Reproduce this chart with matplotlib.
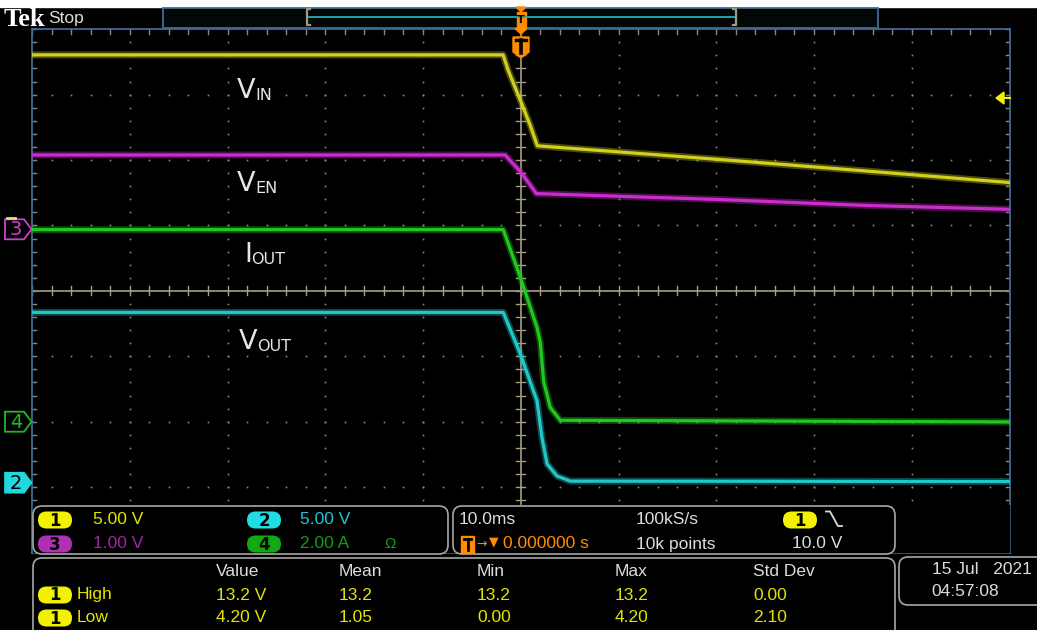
import matplotlib
matplotlib.use('Agg')
import matplotlib.pyplot as plt
from matplotlib.patches import FancyBboxPatch, Rectangle, Polygon

# ---------------- data (time in ms, values in channel units) ----------------
yellow_t = [-50.0, -1.8, -1.3, -0.05, 0.95, 1.7, 20.1, 35.1, 49.9]
yellow_v = [13.35, 13.35, 12.2, 9.9, 8.0, 6.4, 5.37, 4.49, 3.6]          # VIN, ch1

magenta_t = [-50.0, -1.6, 0.0, 1.6, 20.1, 35.1, 49.9]
magenta_v = [1.14, 1.14, 0.88, 0.55, 0.46, 0.37, 0.31]                   # VEN, ch3

green_t = [-50.0, -1.79, -0.05, 1.66, 2.0, 2.35, 3.02, 4.04, 49.9]
green_v = [5.9, 5.9, 4.45, 2.91, 2.45, 1.25, 0.46, 0.07, 0.02]           # IOUT, ch4

cyan_t = [-50.0, -1.79, -0.05, 1.66, 2.17, 2.69, 3.71, 5.07, 49.9]
cyan_v = [13.1, 13.1, 9.94, 6.34, 3.53, 1.51, 0.59, 0.2, 0.17]           # VOUT, ch2

ch_scale = {'1': 5.0, '2': 5.0, '3': 1.0, '4': 2.0}        # per division
ch_offset = {'1': 0.937, '2': -2.949, '3': 0.937, '4': -2.014}  # divisions

trace_main = ['V', 'V', 'I', 'V']
trace_sub = ['IN', 'EN', 'OUT', 'OUT']

scale_texts = {'1': '5.00 V', '2': '5.00 V', '3': '1.00 V', '4': '2.00 A'}
meas_headers = ['Value', 'Mean', 'Min', 'Max', 'Std Dev']
meas_high = ['13.2 V', '13.2', '13.2', '13.2', '0.00']
meas_low = ['4.20 V', '1.05', '0.00', '4.20', '2.10']

# ---------------- colours ----------------
C_Y = '#d0d01e'
C_M = '#cc2ccc'
C_G = '#22c822'
C_C = '#22c8c8'
C_OR = '#ff8c00'
C_TXT = '#dcdcdc'
C_FRAME = '#3f6a96'
C_GRID = '#8c8a78'
C_TAN = '#a89e84'
C_PANEL = '#a8a8a8'

W, H = 1037, 630
fig = plt.figure(figsize=(W / 100, H / 100), dpi=100, facecolor='black')

GL, GR, GT, GB = 32.0, 1009.5, 29.2, 552.5
ax = fig.add_axes([GL / W, 1 - GB / H, (GR - GL) / W, (GB - GT) / H])
ax.set_xlim(-50, 50)
ax.set_ylim(-4, 4)
ax.set_facecolor('black')
ax.set_xticks([])
ax.set_yticks([])
for s in ax.spines.values():
    s.set_color(C_FRAME)
    s.set_linewidth(1.3)

# graticule dots
for xv in range(-50, 51, 10):
    if xv in (-50, 50, 0):
        continue
    ys = [k * 0.2 for k in range(-20, 21)]
    ax.plot([xv] * len(ys), ys, ls='none', marker='s', ms=1.2, color=C_GRID, mew=0)
for yv in range(-3, 4):
    if yv == 0:
        continue
    xs = [k * 2.0 for k in range(-25, 26)]
    ax.plot(xs, [yv] * len(xs), ls='none', marker='s', ms=1.2, color=C_GRID, mew=0)

# centre lines with ticks
ax.axhline(0, color=C_TAN, lw=1.2, zorder=2)
ax.axvline(0, color=C_TAN, lw=1.2, zorder=2)
for k in range(-25, 26):
    ax.plot([k * 2, k * 2], [-0.07, 0.07], color=C_TAN, lw=1.0, zorder=2)
    ax.plot([k * 2, k * 2], [4, 3.93], color=C_GRID, lw=1.0)
    ax.plot([k * 2, k * 2], [-4, -3.93], color=C_GRID, lw=1.0)
for k in range(-20, 21):
    ax.plot([-0.45, 0.45], [k * 0.2, k * 0.2], color=C_TAN, lw=1.0, zorder=2)
    ax.plot([-50, -49.6], [k * 0.2, k * 0.2], color=C_GRID, lw=1.0)
    ax.plot([50, 49.6], [k * 0.2, k * 0.2], color=C_GRID, lw=1.0)


def draw_trace(t, v, ch, color):
    y = [val / ch_scale[ch] + ch_offset[ch] for val in v]
    ax.plot(t, y, color=color, lw=5.0, alpha=0.35, solid_joinstyle='round', zorder=3)
    ax.plot(t, y, color=color, lw=2.3, solid_joinstyle='round', zorder=4)


draw_trace(yellow_t, yellow_v, '1', C_Y)
draw_trace(magenta_t, magenta_v, '3', C_M)
draw_trace(green_t, green_v, '4', C_G)
draw_trace(cyan_t, cyan_v, '2', C_C)

# ---------------- overlay in pixel coordinates ----------------
ov = fig.add_axes([0, 0, 1, 1], zorder=5)
ov.set_xlim(0, W)
ov.set_ylim(H, 0)
ov.axis('off')
ov.patch.set_alpha(0)

NARROW = ['Liberation Sans Narrow', 'Liberation Sans', 'DejaVu Sans']

# top white strip and header
ov.add_patch(Rectangle((0, 0), W, 7, color='white', zorder=1))
ov.text(4, 26, 'Tek', fontsize=19, fontweight='bold', family='Liberation Serif',
        color='white', va='baseline')
ov.text(48, 23.5, 'Stop', fontsize=12.5, family='Liberation Sans', color=C_TXT, va='baseline')
ov.add_patch(Rectangle((163, 7.5), 715, 20, fc='#030806', ec=C_FRAME, lw=1.3))
ov.plot([307, 736], [16.5, 16.5], color='#20b0b8', lw=1.3)
for bx, d in ((307, 1), (736, -1)):
    ov.plot([bx + 3 * d, bx, bx, bx + 3 * d], [9, 9, 25, 25], color='#a09a86', lw=1.6)

# trigger markers (top)
ov.add_patch(Polygon([[516, 7], [526, 7], [521, 12]], color=C_OR))
ov.add_patch(Rectangle((516.5, 12), 9, 15, color=C_OR))
ov.text(521, 20, 'T', ha='center', va='center', fontsize=8, fontweight='bold', color='black')
ov.add_patch(Polygon([[515, 28.5], [527, 28.5], [521, 34]], color=C_OR))
ov.add_patch(Polygon([[513, 37], [529, 37], [529, 52], [521, 58], [513, 52]], color=C_OR))
ov.plot([516, 526], [40, 40], color='black', lw=2.4)
ov.plot([521, 521], [40, 53], color='black', lw=2.6)

# trigger level arrow (right)
ov.add_patch(Polygon([[996, 98], [1004, 92], [1004, 104]], color='#f0f000'))
ov.plot([1003, 1010], [98, 98], color='#f0f000', lw=1.5)

# channel markers (left)
def marker(yc, label, color, filled):
    pts = [[5, yc - 10], [24, yc - 10], [31.5, yc], [24, yc + 10], [5, yc + 10]]
    if filled:
        ov.add_patch(Polygon(pts, closed=True, fc=color, ec=color, lw=1.2))
        tc = 'black'
    else:
        ov.add_patch(Polygon(pts, closed=True, fc='black', ec=color, lw=1.3))
        tc = color
    ov.text(16, yc + 0.5, label, ha='center', va='center', fontsize=14, color=tc,
            family='DejaVu Sans')


ov.plot([7, 15], [217.5, 217.5], color='#e8e080', lw=2)
marker(229.3, '3', '#d040d0', False)
marker(421.7, '4', '#22b822', False)
marker(482.7, '2', '#22d8e0', True)

# trace labels (main letter + subscript)
label_pos = [(237, 98), (237, 191), (244, 262), (239, 349)]
sub_dx = [18, 18, 7, 18.5]
for m, sb, (lx, ly), dx in zip(trace_main, trace_sub, label_pos, sub_dx):
    ov.text(lx, ly, m, fontsize=19.5, color='#e6e6e6', va='baseline', family='DejaVu Sans')
    ov.text(lx + dx, ly + 2, sb, fontsize=11.5, color='#e6e6e6', va='baseline',
            family='DejaVu Sans')

# ---------------- bottom panels ----------------
def panel(x0, y0, x1, y1):
    ov.add_patch(FancyBboxPatch((x0, y0), x1 - x0, y1 - y0,
                                boxstyle='round,pad=0,rounding_size=9',
                                fc='black', ec=C_PANEL, lw=1.2, zorder=2))


ov.add_patch(Rectangle((GL + 1, 505), GR - GL - 2, 46.5, color='black', zorder=1.5))
panel(33, 506, 448, 554)
panel(453, 506, 895, 554)
panel(33, 558, 895, 650)
panel(899, 557, 1060, 605)


def pill(x0, yc, color, label):
    ov.add_patch(FancyBboxPatch((x0, yc - 8.5), 34, 17,
                                boxstyle='round,pad=0,rounding_size=8.5',
                                fc=color, ec='none', zorder=3))
    ov.text(x0 + 17, yc + 0.5, label, ha='center', va='center', fontsize=12,
            fontweight='bold', color='black', zorder=4, family='DejaVu Sans')


def txt(x, y, s, color=C_TXT, size=12.5):
    ov.text(x, y, s, fontsize=size, color=color, va='center', ha='left',
            family=NARROW, zorder=4)


# panel 1: channel scales
pill(38, 520, '#f2f200', '1')
txt(93, 520, scale_texts['1'], '#e4e400')
pill(38, 544, '#b030b4', '3')
txt(93, 544, scale_texts['3'], '#a424a8')
pill(247, 520, '#22dce4', '2')
txt(300, 520, scale_texts['2'], '#22c8d8')
pill(247, 544, '#12a812', '4')
txt(300, 544, scale_texts['4'], '#12a012')
txt(384, 544, 'Ω', '#12a012', 11)

# panel 2: timebase / trigger
txt(459, 520, '10.0ms')
txt(636, 520, '100kS/s')
pill(783, 520, '#f2f200', '1')
ov.plot([826, 830, 838, 842], [511.5, 511.5, 526, 526], color=C_TXT, lw=1.3, zorder=4)
ov.add_patch(Rectangle((461, 535.5), 13, 17, color=C_OR, zorder=3))
ov.plot([464, 471], [539, 539], color='black', lw=2, zorder=4)
ov.plot([467.5, 467.5], [539, 550], color='black', lw=2, zorder=4)
ov.text(476, 544, '→', fontsize=9, color=C_OR, va='center', family='DejaVu Sans', zorder=4)
ov.text(489, 542, '▼', fontsize=9, color=C_OR, va='center', family='DejaVu Sans', zorder=4)
txt(503, 544, '0.000000 s', C_OR)
txt(636, 544, '10k points')
txt(792, 544, '10.0 V')

# panel 3: measurements
col_x = [216, 339, 477, 615, 753]
for cx, h in zip(col_x, meas_headers):
    txt(cx, 572, h)
pill(38, 595, '#f2f200', '1')
txt(77, 595, 'High', '#e4e400')
pill(38, 618, '#f2f200', '1')
txt(77, 618, 'Low', '#e4e400')
for cx, a, b in zip(col_x, meas_high, meas_low):
    txt(cx, 595, a, '#e4e400')
    txt(cx, 618, b, '#e4e400')

# panel 4: date
txt(932, 570, '15 Jul   2021')
txt(931, 592, '04:57:08')

fig.savefig('out.png', dpi=100, facecolor='black')
